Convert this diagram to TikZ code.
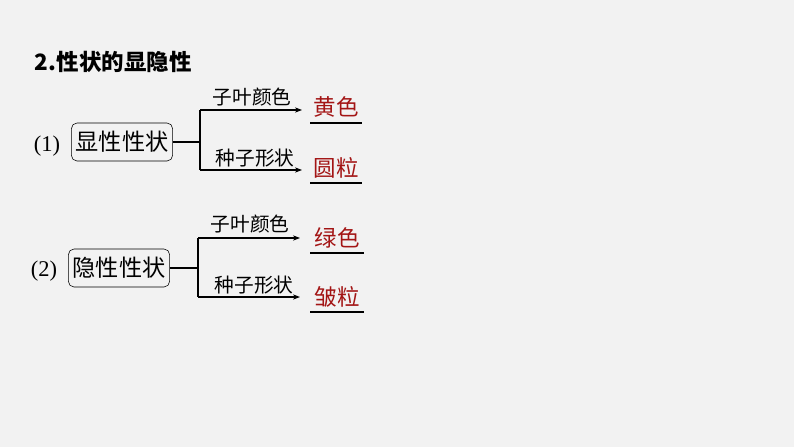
\documentclass[tikz,border=0pt]{standalone}
\usepackage{fontspec}
\setmainfont{Liberation Serif}
\newfontfamily\cjk{Noto Sans CJK SC}
\usetikzlibrary{arrows.meta,positioning}
\definecolor{bgcol}{HTML}{F2F2F2}
\definecolor{anscol}{HTML}{A31515}
\tikzset{
  trait/.style={draw, rounded corners=4pt, font=\cjk\fontsize{16.5}{18}\selectfont, minimum height=0.95cm, inner xsep=3pt},
  lbl/.style={font=\cjk\fontsize{14}{16}\selectfont},
  ans/.style={font=\cjk\fontsize{16}{18}\selectfont, text=anscol},
  num/.style={font=\fontsize{16}{18}\selectfont},
  arr/.style={-{Stealth[length=5pt]}, thick}
}
\begin{document}
\begin{tikzpicture}[x=0.025cm, y=-0.025cm]
  \fill[bgcol] (0,0) rectangle (794,447);
  \node[font=\cjk\bfseries\fontsize{16}{18}\selectfont, anchor=west] (title) at (30,62) {2.性状的显隐性};
  % (1)
  \node[num] (n1) at (47,146) {(1)};
  \node[trait] (t1) at (122,142) {显性性状};
  \coordinate (b1) at (200,142);
  \coordinate (u1) at (200,110);
  \coordinate (d1) at (200,170);
  \coordinate (ue1) at (302,110);
  \coordinate (de1) at (302,170);
  \draw[thick] (t1.east) -- (b1);
  \draw[thick] (u1) -- (d1);
  \draw[arr] (u1) -- (ue1);
  \draw[arr] (d1) -- (de1);
  \node[lbl] (l11) at (252,97) {子叶颜色};
  \node[lbl] (l12) at (255,158) {种子形状};
  \node[ans] (a11) at (336,107) {黄色};
  \node[ans] (a12) at (336,168) {圆粒};
  \draw[thick] (310,123) -- (362,123);
  \draw[thick] (310,183) -- (362,183);
  % (2)
  \node[num] (n2) at (44,271) {(2)};
  \node[trait] (t2) at (119,268) {隐性性状};
  \coordinate (b2) at (198,268);
  \coordinate (u2) at (198,238);
  \coordinate (d2) at (198,297);
  \coordinate (ue2) at (300,238);
  \coordinate (de2) at (300,297);
  \draw[thick] (t2.east) -- (b2);
  \draw[thick] (u2) -- (d2);
  \draw[arr] (u2) -- (ue2);
  \draw[arr] (d2) -- (de2);
  \node[lbl] (l21) at (250,224) {子叶颜色};
  \node[lbl] (l22) at (254,285) {种子形状};
  \node[ans] (a21) at (337,238) {绿色};
  \node[ans] (a22) at (337,297) {皱粒};
  \draw[thick] (310,253) -- (364,253);
  \draw[thick] (310,312) -- (364,312);
\end{tikzpicture}
\end{document}
